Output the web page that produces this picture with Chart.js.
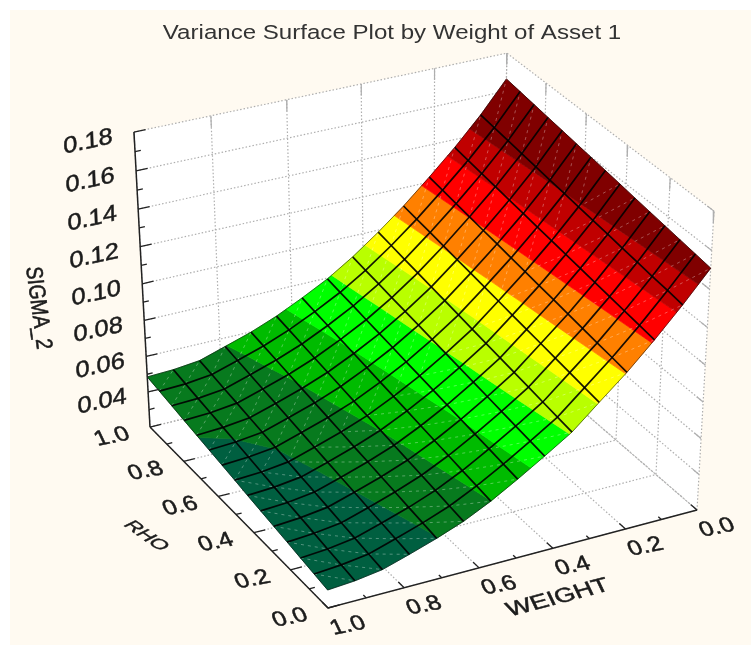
<!DOCTYPE html>
<html>
<head>
<meta charset="utf-8">
<style>
  html, body { margin: 0; padding: 0; background: #fff; width: 751px; height: 645px; overflow: hidden; }
  #chart { position: absolute; left: 10px; top: 10px; background: #fffaf1; }
</style>
</head>
<body>
<canvas id="chart" width="741" height="635"></canvas>
<script src="https://cdn.jsdelivr.net/npm/chart.js@4/dist/chart.umd.min.js"></script>
<script>
const chartTitle = "Variance Surface Plot by Weight of Asset 1";
const weightTicks = [1.0, 0.8, 0.6, 0.4, 0.2, 0.0];
const rhoTicks = [1.0, 0.8, 0.6, 0.4, 0.2, 0.0];
const sigmaTicks = [0.18, 0.16, 0.14, 0.12, 0.10, 0.08, 0.06, 0.04];

// Mesh positions of the surface, 14 cells each way.
const weights = [1, 0.929, 0.857, 0.786, 0.714, 0.643, 0.571, 0.5, 0.429, 0.357, 0.286, 0.214, 0.143, 0.071, 0];
const rhos = [0, 0.071, 0.143, 0.214, 0.286, 0.357, 0.429, 0.5, 0.571, 0.643, 0.714, 0.786, 0.857, 0.929, 1];

// SIGMA_2: one row per rho, one column per weight.
const sigma = [
  [.0300, .0311, .0333, .0378, .0427, .0482, .0554, .0637, .0725, .0818, .0942, .1066, .1203, .1352, .1509],
  [.0313, .0324, .0345, .0390, .0439, .0494, .0566, .0648, .0736, .0830, .0953, .1078, .1214, .1363, .1520],
  [.0326, .0337, .0358, .0403, .0451, .0507, .0578, .0660, .0748, .0842, .0965, .1089, .1225, .1373, .1531],
  [.0340, .0350, .0370, .0415, .0464, .0519, .0590, .0671, .0759, .0855, .0976, .1101, .1236, .1384, .1542],
  [.0353, .0363, .0383, .0428, .0476, .0531, .0602, .0682, .0771, .0867, .0988, .1112, .1247, .1395, .1553],
  [.0366, .0375, .0395, .0440, .0488, .0543, .0614, .0693, .0782, .0879, .0999, .1124, .1258, .1406, .1564],
  [.0379, .0388, .0407, .0452, .0500, .0556, .0626, .0705, .0793, .0891, .1010, .1135, .1269, .1416, .1576],
  [.0393, .0401, .0420, .0465, .0513, .0568, .0638, .0716, .0805, .0903, .1022, .1147, .1280, .1427, .1587],
  [.0406, .0414, .0432, .0477, .0525, .0580, .0650, .0727, .0816, .0916, .1033, .1158, .1291, .1438, .1598],
  [.0419, .0427, .0445, .0490, .0537, .0593, .0662, .0739, .0828, .0928, .1045, .1170, .1302, .1448, .1609],
  [.0432, .0440, .0457, .0502, .0549, .0605, .0674, .0750, .0839, .0940, .1056, .1181, .1313, .1459, .1620],
  [.0445, .0452, .0470, .0514, .0561, .0617, .0686, .0761, .0850, .0952, .1067, .1193, .1324, .1470, .1631],
  [.0459, .0465, .0482, .0527, .0574, .0629, .0698, .0773, .0862, .0964, .1079, .1204, .1335, .1481, .1642],
  [.0472, .0478, .0495, .0539, .0586, .0642, .0710, .0784, .0873, .0977, .1090, .1216, .1346, .1491, .1653],
  [.0485, .0491, .0507, .0552, .0598, .0654, .0722, .0795, .0885, .0989, .1101, .1227, .1357, .1502, .1664]
];

// Contour bands of the surface.
const bandLevels = [0, .043, .0555, .068, .081, .0935, .106, .119, .132, .144, 1];
const bandColors = ["#005f40", "#077a1e", "#00bb00", "#00ff00", "#b9ff00", "#ffff00", "#ff8000", "#ff0000", "#c00000", "#800000"];

const sigmaMin = 0.02, sigmaMax = 0.18;

// Perspective view of the plot box, fitted to its corners.
function project(weight, rho, s) {
  const u = 1 - weight, v = rho, t = (s - sigmaMin) / (sigmaMax - sigmaMin);
  const h = 1 + 0.04 * u + 0.07 * v - 0.06 * t;
  return {
    x: (328 + 396.9 * u - 167.5 * v - 25.2 * t) / h,
    y: (608 - 77.6 * u - 151.1 * v - 323.5 * t) / h
  };
}

const datasets = [];
function addLine(data, color, width, dash) {
  datasets.push({ data, showLine: true, pointRadius: 0, borderColor: color, borderWidth: width, borderDash: dash || [], fill: false, tension: 0 });
}
// Closed polygons are painted by the polygonFill plugin below.
function addShape(data, color, border) {
  datasets.push({ data, showLine: false, pointRadius: 0, polygonColor: color, polygonBorder: border });
}

// White walls and floor of the box.
addShape([project(1, 0, sigmaMin), project(0, 0, sigmaMin), project(0, 1, sigmaMin), project(1, 1, sigmaMin)], "#ffffff", 0);
addShape([project(1, 1, sigmaMin), project(0, 1, sigmaMin), project(0, 1, sigmaMax), project(1, 1, sigmaMax)], "#ffffff", 0);
addShape([project(0, 0, sigmaMin), project(0, 1, sigmaMin), project(0, 1, sigmaMax), project(0, 0, sigmaMax)], "#ffffff", 0);

// Dotted grid on the walls and floor, with small grey stubs on the far edges.
const gridColor = "#aeaeae", gridDash = [1.5, 2];
weightTicks.forEach(w => {
  addLine([project(w, 0, sigmaMin), project(w, 1, sigmaMin), project(w, 1, sigmaMax)], gridColor, 1.2, gridDash);
  addLine([project(w, 1, sigmaMax), project(w, 1, sigmaMax - 0.006)], gridColor, 1.2);
});
rhoTicks.forEach(r => {
  addLine([project(1, r, sigmaMin), project(0, r, sigmaMin), project(0, r, sigmaMax)], gridColor, 1.2, gridDash);
  addLine([project(0, r, sigmaMax), project(0, r, sigmaMax - 0.006)], gridColor, 1.2);
});
sigmaTicks.concat([sigmaMin]).forEach(s => {
  addLine([project(1, 1, s), project(0, 1, s), project(0, 0, s)], gridColor, 1.2, gridDash);
  addLine([project(0, 0, s), project(0, 0.03, s)], gridColor, 1.2);
});

// Cut a mesh cell to one band, the edges being straight between its corners.
function clipCell(cell, limit, keepAbove) {
  const out = [];
  cell.forEach((a, k) => {
    const b = cell[(k + 1) % cell.length];
    const aIn = keepAbove ? a.s >= limit : a.s <= limit;
    const bIn = keepAbove ? b.s >= limit : b.s <= limit;
    if (aIn) out.push(a);
    if (aIn !== bIn) {
      const f = (limit - a.s) / (b.s - a.s);
      out.push({ w: a.w + (b.w - a.w) * f, r: a.r + (b.r - a.r) * f, s: limit });
    }
  });
  return out;
}

const corner = (i, j) => ({ w: weights[i], r: rhos[j], s: sigma[j][i] });
const meshPoint = (i, j) => project(weights[i], rhos[j], sigma[j][i]);

for (let j = 0; j < rhos.length - 1; j++) {
  for (let i = 0; i < weights.length - 1; i++) {
    const cell = [corner(i, j), corner(i + 1, j), corner(i + 1, j + 1), corner(i, j + 1)];
    bandColors.forEach((color, b) => {
      let part = clipCell(cell, bandLevels[b], true);
      if (part.length) part = clipCell(part, bandLevels[b + 1], false);
      if (part.length < 3) return;
      addShape(part.map(p => project(p.w, p.r, p.s)), color, 0.7);
    });
  }
}

// Pale dashed diagonal through every cell.
const diagonals = [];
for (let j = 0; j < rhos.length - 1; j++) {
  for (let i = 0; i < weights.length - 1; i++) {
    if (j >= 7) diagonals.push(meshPoint(i, j), meshPoint(i + 1, j + 1));
    else diagonals.push(meshPoint(i, j + 1), meshPoint(i + 1, j));
    diagonals.push({ x: NaN, y: NaN });
  }
}
addLine(diagonals, "rgba(255,255,255,0.32)", 1, [3, 4]);

// Mesh lines, thin on the outline of the surface.
rhos.forEach((r, j) => {
  const edge = j === 0 || j === rhos.length - 1;
  addLine(weights.map((w, i) => meshPoint(i, j)), edge ? "rgba(0,0,0,0.65)" : "rgba(0,0,0,0.9)", edge ? 0.8 : 1.7);
});
weights.forEach((w, i) => {
  const edge = i === 0 || i === weights.length - 1;
  addLine(rhos.map((r, j) => meshPoint(i, j)), edge ? "rgba(0,0,0,0.65)" : "rgba(0,0,0,0.9)", edge ? 0.8 : 1.7);
});

// Solid axes with major and minor ticks.
const axisColor = "#222222";
addLine([project(1, 1, sigmaMin), project(1, 1, sigmaMax)], axisColor, 1.5);
addLine([project(1, 1, sigmaMin), project(1, 0, sigmaMin), project(0, 0, sigmaMin)], axisColor, 1.5);
const tickLen = 0.03;
sigmaTicks.forEach(s => {
  addLine([project(1, 1, s), project(1 - tickLen, 1, s)], axisColor, 1.3);
  addLine([project(1, 1, s - 0.01), project(1 - tickLen / 2, 1, s - 0.01)], axisColor, 1.3);
});
rhoTicks.forEach(r => {
  addLine([project(1, r, sigmaMin), project(1 - tickLen, r, sigmaMin)], axisColor, 1.3);
  if (r > 0) addLine([project(1, r - 0.1, sigmaMin), project(1 - tickLen / 2, r - 0.1, sigmaMin)], axisColor, 1.3);
});
weightTicks.forEach(w => {
  addLine([project(w, 0, sigmaMin), project(w, tickLen, sigmaMin)], axisColor, 1.3);
  if (w > 0) addLine([project(w - 0.1, 0, sigmaMin), project(w - 0.1, tickLen / 2, sigmaMin)], axisColor, 1.3);
});

// Chart.js paints the highest order first.
datasets.forEach((d, k) => { d.order = datasets.length - k; });

// Fills a dataset's points as one polygon, at the pixels the scales gave them.
const polygonFill = {
  id: "polygonFill",
  beforeDatasetDraw(chart, args) {
    const d = chart.data.datasets[args.index];
    if (!d.polygonColor) return;
    const ctx = chart.ctx;
    ctx.save();
    ctx.beginPath();
    args.meta.data.forEach((pt, k) => {
      if (k === 0) ctx.moveTo(pt.x, pt.y);
      else ctx.lineTo(pt.x, pt.y);
    });
    ctx.closePath();
    ctx.fillStyle = d.polygonColor;
    ctx.fill();
    if (d.polygonBorder) {
      ctx.strokeStyle = d.polygonColor;
      ctx.lineWidth = d.polygonBorder;
      ctx.stroke();
    }
    ctx.restore();
  }
};

const labelFont = "Liberation Sans, Arial, sans-serif";

// Tilted text that lies in the planes of the box.
function planeText(ctx, chart, text, at, size, m, color, weight) {
  const px = chart.scales.x.getPixelForValue(at.x);
  const py = chart.scales.y.getPixelForValue(at.y);
  ctx.save();
  ctx.transform(m[0], m[1], m[2], m[3], px, py);
  ctx.font = size + "px " + labelFont;
  ctx.fillStyle = color || "#1c1c1c";
  ctx.strokeStyle = ctx.fillStyle;
  ctx.lineWidth = weight === undefined ? 0.5 : weight;
  ctx.textAlign = "center";
  ctx.textBaseline = "middle";
  ctx.fillText(text, 0, 0);
  if (weight !== 0) ctx.strokeText(text, 0, 0);
  ctx.restore();
}

const axisText = {
  id: "axisText",
  afterDatasetsDraw(chart) {
    const ctx = chart.ctx;
    const wallMatrix = [1.1, -0.24, 0.03, 1];
    const floorMatrix = [1.15, -0.22, 0.45, 0.95];
    sigmaTicks.forEach(s => {
      const p = project(1, 1, s);
      planeText(ctx, chart, s.toFixed(2), { x: p.x - 46, y: p.y + 10 }, 23, wallMatrix);
    });
    rhoTicks.forEach(r => {
      const p = project(1, r, sigmaMin);
      planeText(ctx, chart, r.toFixed(1), { x: p.x - 38, y: p.y + 10 }, 21, floorMatrix);
    });
    weightTicks.forEach(w => {
      const p = project(w, 0, sigmaMin);
      planeText(ctx, chart, w.toFixed(1), { x: p.x + 20, y: p.y + 18 }, 21, floorMatrix);
    });
    planeText(ctx, chart, "WEIGHT", { x: 558, y: 598 }, 20, [1.26, -0.33, 0.45, 0.95]);
    planeText(ctx, chart, "RHO", { x: 146, y: 536 }, 20, [0.85, 0.6, -0.85, 0.42]);
    planeText(ctx, chart, "SIGMA_2", { x: 38, y: 308 }, 20, [0.13, 0.95, -1.15, 0.1]);
    planeText(ctx, chart, chartTitle, { x: 392, y: 33 }, 20.5, [1.175, 0, 0, 1], "#333333", 0);
  }
};

new Chart(document.getElementById("chart"), {
  type: "scatter",
  data: { datasets },
  options: {
    responsive: false,
    animation: false,
    layout: { padding: 0 },
    plugins: { legend: { display: false }, tooltip: { enabled: false }, title: { display: false } },
    scales: {
      x: { type: "linear", display: false, min: 10, max: 751 },
      y: { type: "linear", display: false, min: 10, max: 645, reverse: true }
    }
  },
  plugins: [polygonFill, axisText]
});
</script>
</body>
</html>
